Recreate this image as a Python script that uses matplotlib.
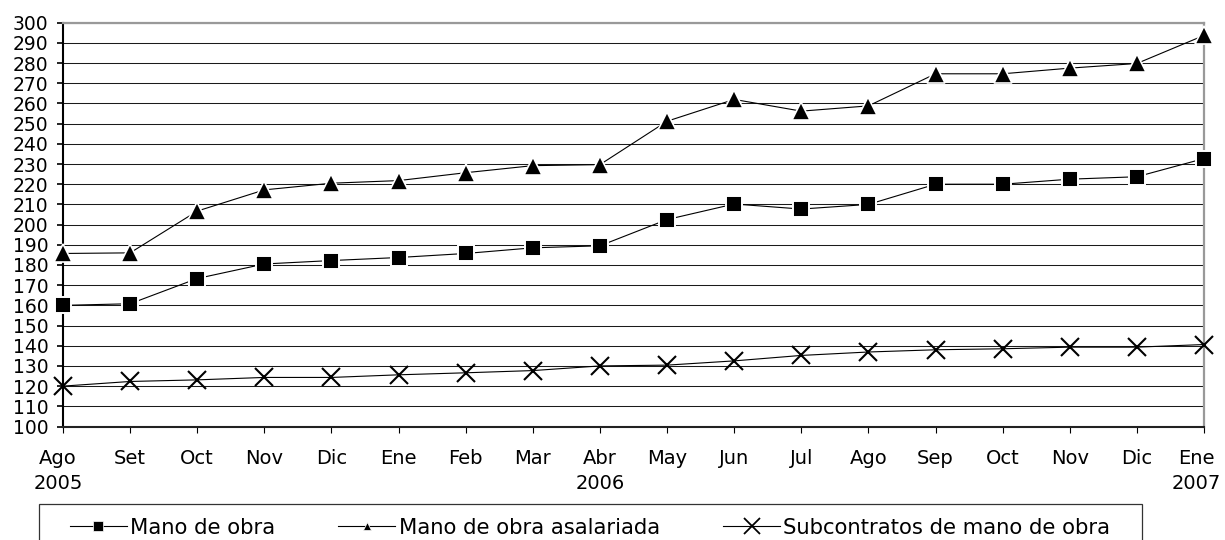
import numpy as np
import matplotlib
matplotlib.use('Agg')
import matplotlib.pyplot as plt
from matplotlib.lines import Line2D
from matplotlib.patches import Rectangle
from matplotlib.transforms import ScaledTranslation

# Category labels (month / year)
months = ['Ago\n2005', 'Set', 'Oct', 'Nov', 'Dic', 'Ene', 'Feb', 'Mar', 'Abr\n2006',
          'May', 'Jun', 'Jul', 'Ago', 'Sep', 'Oct', 'Nov', 'Dic', 'Ene\n2007']

# Series
mano_obra = [160, 160.8, 173.3, 180.5, 182.2, 183.7, 185.7, 188.5, 189.5,
             202.5, 210.2, 207.7, 210, 220, 220, 222.5, 223.7, 232.7]
asalariada = [185.7, 186, 206.7, 217.2, 220.5, 221.8, 225.7, 229.2, 229.7,
              251.2, 262, 256.2, 258.8, 274.7, 274.7, 277.5, 279.8, 293.7]
subcontratos = [120, 122.3, 123.1, 124.3, 124.3, 125.6, 126.6, 127.7, 130,
                130.4, 132.5, 135.2, 136.9, 138.0, 138.5, 139.3, 139.3, 140.6]

y_ticks = list(range(100, 301, 10))
labels = ['Mano de obra', 'Mano de obra asalariada', 'Subcontratos de mano de obra']


def main():
    plt.rcParams['font.family'] = 'DejaVu Sans'
    fig = plt.figure(figsize=(12.25, 5.4), dpi=100)
    ax = fig.add_axes([63 / 1225, 1 - 426.5 / 540, 1141 / 1225, (426.5 - 22.7) / 540])

    x = np.arange(len(months))

    ax.plot(x, asalariada, color='black', lw=0.8, marker='^', ms=13,
            mfc='black', mec='white', mew=1.2, zorder=4, clip_on=False)
    ax.plot(x, mano_obra, color='black', lw=0.8, marker='s', ms=11,
            mfc='black', mec='white', mew=1.4, zorder=4, clip_on=False)
    ax.plot(x, subcontratos, color='black', lw=0.8, marker='x', ms=13,
            mec='black', mew=1.5, zorder=4, clip_on=False)

    ax.set_xlim(0, len(months) - 1)
    ax.set_ylim(100, 300)
    ax.set_yticks(y_ticks)
    ax.set_xticks(x)
    ax.set_xticklabels(months, fontsize=14, linespacing=1.35)
    ax.tick_params(axis='y', labelsize=13.5, length=4, width=1.2, pad=6.5)
    ax.tick_params(axis='x', length=4.5, width=0.8, pad=12)

    # first and last category labels sit a bit inward, as in the original
    ticklabels = ax.get_xticklabels()
    ticklabels[0].set_transform(ticklabels[0].get_transform()
                                + ScaledTranslation(-5 / 100, 0, fig.dpi_scale_trans))
    ticklabels[-1].set_transform(ticklabels[-1].get_transform()
                                 + ScaledTranslation(-8 / 100, 0, fig.dpi_scale_trans))

    ax.grid(axis='y', color='#1a1a1a', lw=0.75, zorder=0)
    ax.set_axisbelow(True)

    for side in ['top', 'right']:
        ax.spines[side].set_color('#999999')
        ax.spines[side].set_linewidth(1.6)
    ax.spines['left'].set_color('black')
    ax.spines['left'].set_linewidth(1.5)
    ax.spines['bottom'].set_color('#222222')
    ax.spines['bottom'].set_linewidth(1.5)

    # legend box runs past the bottom edge of the picture
    fig.patches.append(Rectangle((39 / 1225, 1 - 550 / 540), 1103 / 1225, 46 / 540,
                                 transform=fig.transFigure, fill=False,
                                 edgecolor='#333333', lw=0.9))

    handles = [
        Line2D([], [], color='black', lw=0.8, marker='s', ms=7.5, mfc='black', mec='white', mew=0.5),
        Line2D([], [], color='black', lw=0.8, marker='^', ms=6, mfc='black', mec='white', mew=0.5),
        Line2D([], [], color='black', lw=0.8, marker='x', ms=11, mec='black', mew=1.3),
    ]
    fig.legend(handles, labels, ncol=3, loc='upper left',
               bbox_to_anchor=(55 / 1225, 1 - 503 / 540),
               fontsize=15.2, frameon=False,
               handlelength=2.7, handletextpad=0.15, columnspacing=3.0,
               borderpad=0.7, borderaxespad=0)

    fig.savefig('out.png', dpi=100)


if __name__ == '__main__':
    main()
